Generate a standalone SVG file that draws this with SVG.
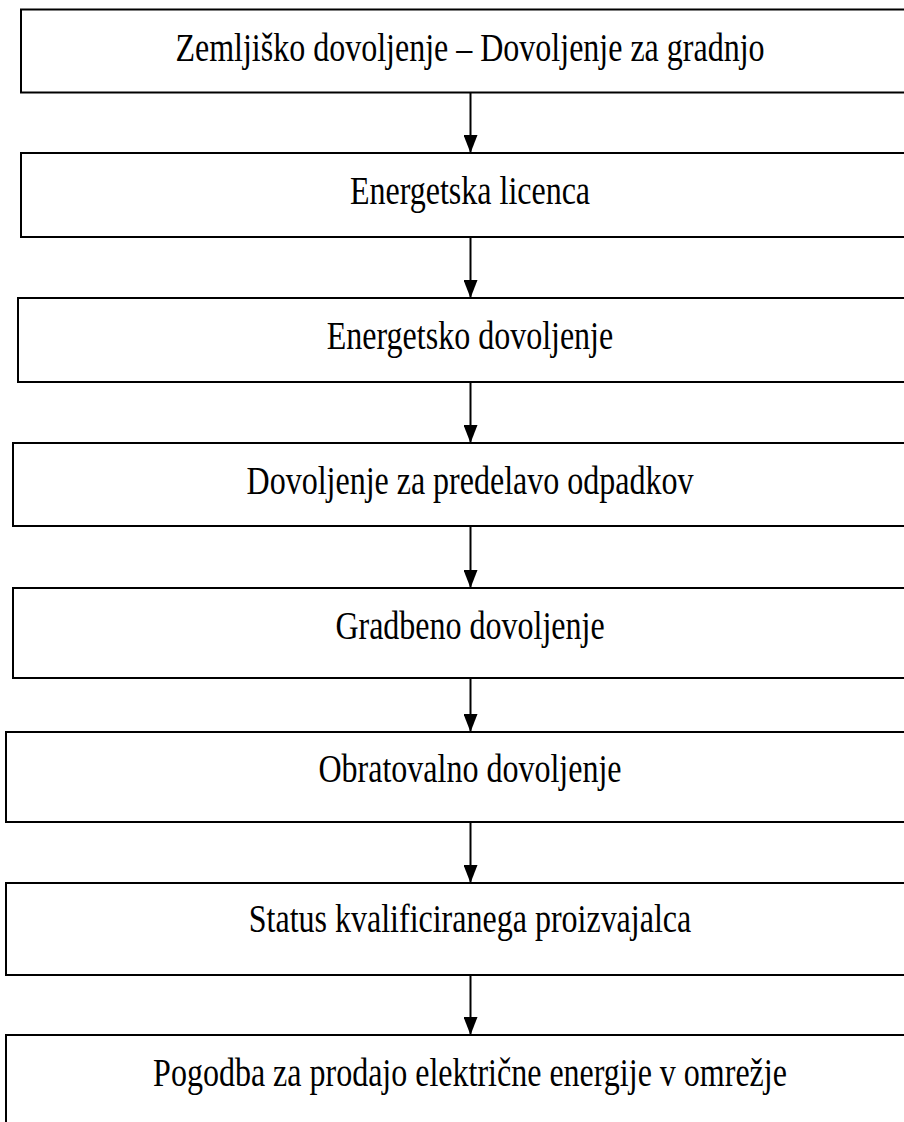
<svg xmlns="http://www.w3.org/2000/svg" width="904" height="1122" viewBox="0 0 904 1122">
<defs>
<style>
.box{fill:#fff;stroke:#000;stroke-width:2}
.lbl{font-family:"Liberation Serif","Times New Roman",serif;font-size:32px;fill:#000;text-anchor:middle}
.con{stroke:#000;stroke-width:2;fill:none}
</style>
<marker id="ah" markerWidth="18" markerHeight="14" refX="18" refY="7" orient="auto" markerUnits="userSpaceOnUse" viewBox="0 0 18 14">
<path d="M0,0 L18,7 L0,14 Z" fill="#000"/>
</marker>
</defs>
<rect width="904" height="1122" fill="#fff"/>
<g id="connectors">
<line class="con" x1="470.5" y1="93" x2="470.5" y2="153" marker-end="url(#ah)"/>
<line class="con" x1="470.5" y1="237" x2="470.5" y2="298" marker-end="url(#ah)"/>
<line class="con" x1="470.5" y1="382" x2="470.5" y2="443" marker-end="url(#ah)"/>
<line class="con" x1="470.5" y1="526" x2="470.5" y2="588" marker-end="url(#ah)"/>
<line class="con" x1="470.5" y1="678" x2="470.5" y2="732" marker-end="url(#ah)"/>
<line class="con" x1="470.5" y1="822" x2="470.5" y2="883" marker-end="url(#ah)"/>
<line class="con" x1="470.5" y1="975" x2="470.5" y2="1035" marker-end="url(#ah)"/>
</g>
<g id="n1"><rect class="box" x="21" y="9.5" width="900" height="83"/><text class="lbl" transform="translate(470,61) scale(1,1.25)">Zemljiško dovoljenje – Dovoljenje za gradnjo</text></g>
<g id="n2"><rect class="box" x="21" y="153" width="900" height="84"/><text class="lbl" transform="translate(470,204) scale(1,1.25)">Energetska licenca</text></g>
<g id="n3"><rect class="box" x="18" y="298" width="900" height="84"/><text class="lbl" transform="translate(470,349) scale(1,1.25)">Energetsko dovoljenje</text></g>
<g id="n4"><rect class="box" x="13" y="443" width="900" height="83"/><text class="lbl" transform="translate(470,494) scale(1,1.25)">Dovoljenje za predelavo odpadkov</text></g>
<g id="n5"><rect class="box" x="13" y="588" width="900" height="90"/><text class="lbl" transform="translate(470,639) scale(1,1.25)">Gradbeno dovoljenje</text></g>
<g id="n6"><rect class="box" x="6" y="732" width="900" height="90"/><text class="lbl" transform="translate(470,782) scale(1,1.25)">Obratovalno dovoljenje</text></g>
<g id="n7"><rect class="box" x="6" y="883" width="900" height="92"/><text class="lbl" transform="translate(470,932) scale(1,1.25)">Status kvalificiranega proizvajalca</text></g>
<g id="n8"><rect class="box" x="6" y="1035" width="900" height="120"/><text class="lbl" transform="translate(470,1086) scale(1,1.25)">Pogodba za prodajo električne energije v omrežje</text></g>
</svg>
